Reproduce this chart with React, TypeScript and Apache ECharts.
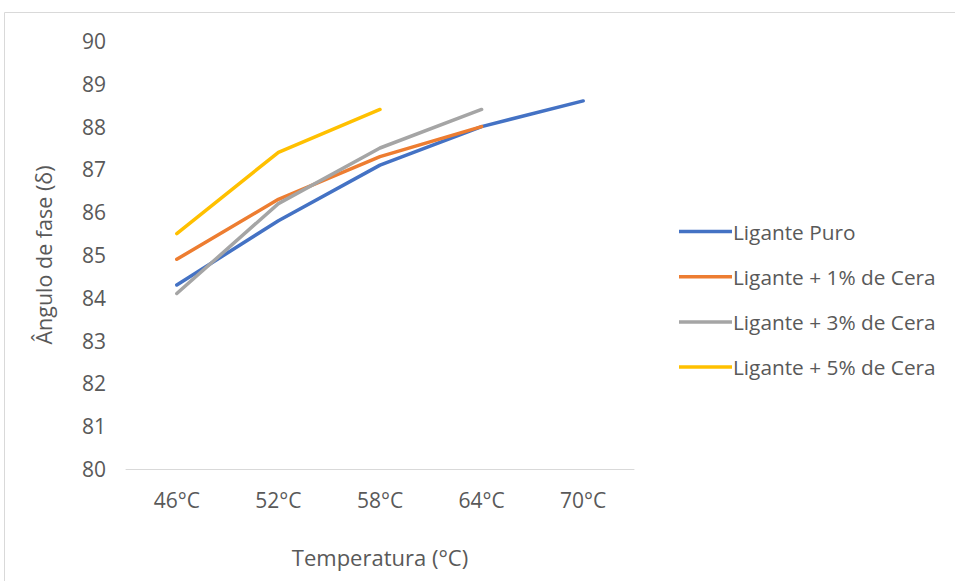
import React, { useEffect, useRef } from "react";
import * as echarts from "echarts";

const categories = ["46°C", "52°C", "58°C", "64°C", "70°C"];
const seriesNames = [
  "Ligante Puro",
  "Ligante + 1% de Cera",
  "Ligante + 3% de Cera",
  "Ligante + 5% de Cera",
];
const ligantePuro = [84.3, 85.8, 87.1, 88.0, 88.6];
const cera1 = [84.9, 86.3, 87.3, 88.0, null];
const cera3 = [84.1, 86.2, 87.5, 88.4, null];
const cera5 = [85.5, 87.4, 88.4, null, null];
const colors = ["#4472C4", "#ED7D31", "#A5A5A5", "#FFC000"];

const FONT = "Open Sans";

export default function App() {
  const ref = useRef<HTMLDivElement>(null);
  useEffect(() => {
    document.body.style.margin = "0";
    const chart = echarts.init(ref.current!, null, { renderer: "svg" });
    const data = [ligantePuro, cera1, cera3, cera5];
    chart.setOption({
      animation: false,
      backgroundColor: "#ffffff",
      textStyle: { fontFamily: FONT },
      graphic: [
        {
          type: "rect",
          shape: { x: 4.5, y: 12.5, width: 1000, height: 600 },
          style: { fill: "none", stroke: "#d9d9d9", lineWidth: 1 },
          silent: true,
        },
      ],
      grid: { left: 126, right: 321, top: 41, bottom: 112 },
      legend: {
        orient: "vertical",
        left: 674,
        top: 215,
        itemWidth: 53,
        itemHeight: 3.5,
        itemGap: 22.2,
        icon: "rect",
        textStyle: { color: "#595959", fontSize: 20.8, fontFamily: FONT, lineHeight: 23, padding: [0, 0, 0, -4] },
        data: seriesNames,
      },
      xAxis: {
        type: "category",
        data: categories,
        boundaryGap: true,
        name: "Temperatura (°C)",
        nameLocation: "middle",
        nameGap: 77,
        nameTextStyle: { color: "#595959", fontSize: 22, fontFamily: FONT },
        axisLine: { show: true, lineStyle: { color: "#d9d9d9", width: 1 } },
        axisTick: { show: false },
        axisLabel: { color: "#595959", fontSize: 21, fontFamily: FONT, margin: 20 },
      },
      yAxis: {
        type: "value",
        min: 80,
        max: 90,
        interval: 1,
        name: "Ângulo de fase (δ)",
        nameLocation: "middle",
        nameGap: 72,
        nameTextStyle: { color: "#595959", fontSize: 21.5, fontFamily: FONT },
        axisLine: { show: false },
        axisTick: { show: false },
        splitLine: { show: false },
        axisLabel: { color: "#595959", fontSize: 21, fontFamily: FONT, margin: 20 },
      },
      series: seriesNames.map((name, i) => ({
        name,
        type: "line",
        data: data[i],
        color: colors[i],
        symbol: "none",
        lineStyle: { width: 3.5, color: colors[i], cap: "round", join: "round" },
        connectNulls: false,
      })),
    });
    return () => chart.dispose();
  }, []);
  return <div ref={ref} style={{ width: 955, height: 581 }} />;
}
